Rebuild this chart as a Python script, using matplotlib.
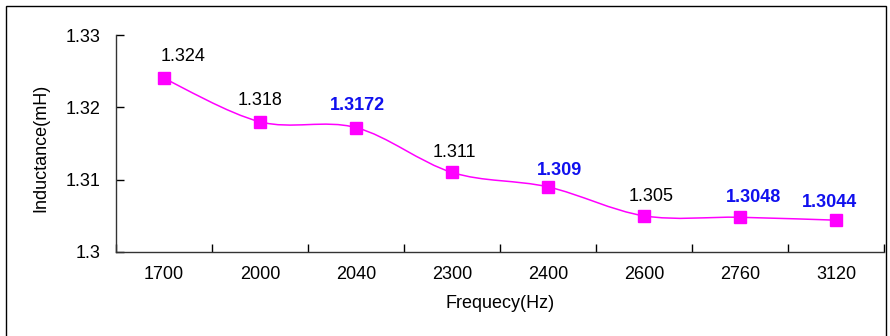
import matplotlib.pyplot as plt
from matplotlib.path import Path
from matplotlib.patches import PathPatch, Rectangle

plt.rcParams['font.family'] = ['Liberation Sans', 'DejaVu Sans']

# data
frequencies = ['1700', '2000', '2040', '2300', '2400', '2600', '2760', '3120']
inductance = [1.324, 1.318, 1.3172, 1.311, 1.309, 1.305, 1.3048, 1.3044]
value_labels = ['1.324', '1.318', '1.3172', '1.311', '1.309', '1.305', '1.3048', '1.3044']
highlighted = [False, False, True, False, True, False, True, True]
y_ticks = [1.3, 1.31, 1.32, 1.33]
y_tick_labels = ['1.3', '1.31', '1.32', '1.33']

# label offsets in points (dx, dy) to mimic the original placement
label_offsets = [(14, 16), (0, 15), (1, 16), (2, 14), (8, 12), (5, 14), (10, 14), (-5, 13)]

fig = plt.figure(figsize=(8.9, 3.36), dpi=100)
ax = fig.add_axes([116 / 890, 84 / 336, 768 / 890, 217 / 336])

xs = list(range(len(frequencies)))

# smoothed line (Excel style Bezier through the points)
verts = [(xs[0], inductance[0])]
codes = [Path.MOVETO]
n = len(xs)
for i in range(n - 1):
    p0 = (xs[max(i - 1, 0)], inductance[max(i - 1, 0)])
    p1 = (xs[i], inductance[i])
    p2 = (xs[i + 1], inductance[i + 1])
    p3 = (xs[min(i + 2, n - 1)], inductance[min(i + 2, n - 1)])
    c1 = (p1[0] + (p2[0] - p0[0]) / 6, p1[1] + (p2[1] - p0[1]) / 6)
    c2 = (p2[0] - (p3[0] - p1[0]) / 6, p2[1] - (p3[1] - p1[1]) / 6)
    verts += [c1, c2, p2]
    codes += [Path.CURVE4] * 3
ax.add_patch(PathPatch(Path(verts, codes), facecolor='none', edgecolor='#FF00FF', lw=1.1, zorder=2))
ax.plot(xs, inductance, linestyle='none', marker='s', markersize=8, color='#FF00FF', zorder=3)

for x, y, lab, hi, off in zip(xs, inductance, value_labels, highlighted, label_offsets):
    ax.annotate(lab, (x, y), xytext=off, textcoords='offset points', ha='center', va='center',
                fontsize=13, color='#1010EE' if hi else 'black',
                fontweight='bold' if hi else 'normal')

ax.set_xlim(-0.5, n - 0.5)
ax.set_ylim(1.3, 1.33)
ax.set_yticks(y_ticks)
ax.set_yticklabels(y_tick_labels)
ax.set_xticks(xs)
ax.set_xticklabels(frequencies)
ax.set_xticks([i + 0.5 for i in range(-1, n)], minor=True)

ax.tick_params(axis='x', which='major', length=0, pad=10, labelsize=13)
ax.tick_params(axis='x', which='minor', direction='in', length=6, width=1)
ax.tick_params(axis='y', direction='in', length=6, width=1, pad=11, labelsize=13)

for s in ['top', 'right']:
    ax.spines[s].set_visible(False)
for s in ['left', 'bottom']:
    ax.spines[s].set_color('#333333')
    ax.spines[s].set_linewidth(1)

ax.set_ylabel('Inductance(mH)', fontsize=13)
ax.yaxis.set_label_coords(-0.087, 0.48)
ax.set_xlabel('Frequecy(Hz)', fontsize=13)
ax.xaxis.set_label_coords(0.5, -0.2)

# outer frame around the chart area
fig.patches.append(Rectangle((6 / 890, -0.05), 880 / 890, 1.05 - 6 / 336, transform=fig.transFigure,
                             fill=False, edgecolor='black', linewidth=1))

fig.savefig('out.png', dpi=100)
